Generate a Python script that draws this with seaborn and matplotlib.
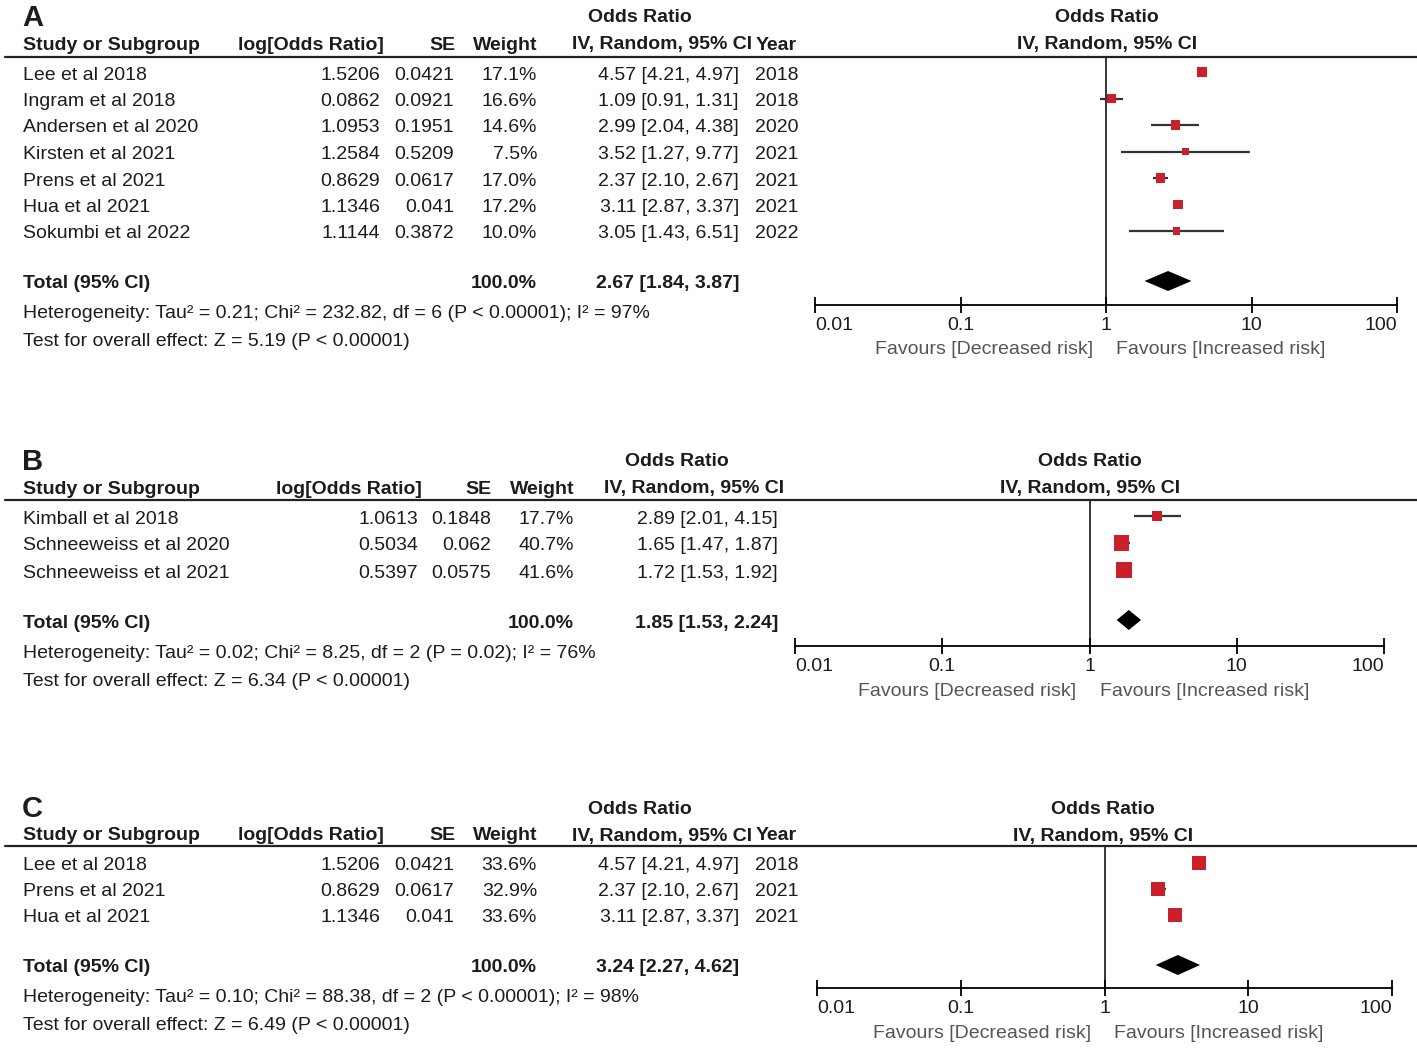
import numpy as np
import pandas as pd
import matplotlib
matplotlib.use("Agg")
import matplotlib.pyplot as plt
from matplotlib.lines import Line2D
import seaborn as sns


# ---------------- DATA ---------------- #

# panel A
a_study = ["Lee et al 2018", "Ingram et al 2018", "Andersen et al 2020", "Kirsten et al 2021",
           "Prens et al 2021", "Hua et al 2021", "Sokumbi et al 2022"]
a_logor = [1.5206, 0.0862, 1.0953, 1.2584, 0.8629, 1.1346, 1.1144]
a_se = [0.0421, 0.0921, 0.1951, 0.5209, 0.0617, 0.041, 0.3872]
a_weight = [17.1, 16.6, 14.6, 7.5, 17.0, 17.2, 10.0]
a_or = [4.57, 1.09, 2.99, 3.52, 2.37, 3.11, 3.05]
a_lo = [4.21, 0.91, 2.04, 1.27, 2.10, 2.87, 1.43]
a_hi = [4.97, 1.31, 4.38, 9.77, 2.67, 3.37, 6.51]
a_year = [2018, 2018, 2020, 2021, 2021, 2021, 2022]
a_total = [2.67, 1.84, 3.87]
a_het = "Heterogeneity: Tau² = 0.21; Chi² = 232.82, df = 6 (P < 0.00001); I² = 97%"
a_test = "Test for overall effect: Z = 5.19 (P < 0.00001)"

# panel B
b_study = ["Kimball et al 2018", "Schneeweiss et al 2020", "Schneeweiss et al 2021"]
b_logor = [1.0613, 0.5034, 0.5397]
b_se = [0.1848, 0.062, 0.0575]
b_weight = [17.7, 40.7, 41.6]
b_or = [2.89, 1.65, 1.72]
b_lo = [2.01, 1.47, 1.53]
b_hi = [4.15, 1.87, 1.92]
b_total = [1.85, 1.53, 2.24]
b_het = "Heterogeneity: Tau² = 0.02; Chi² = 8.25, df = 2 (P = 0.02); I² = 76%"
b_test = "Test for overall effect: Z = 6.34 (P < 0.00001)"

# panel C
c_study = ["Lee et al 2018", "Prens et al 2021", "Hua et al 2021"]
c_logor = [1.5206, 0.8629, 1.1346]
c_se = [0.0421, 0.0617, 0.041]
c_weight = [33.6, 32.9, 33.6]
c_or = [4.57, 2.37, 3.11]
c_lo = [4.21, 2.10, 2.87]
c_hi = [4.97, 2.67, 3.37]
c_year = [2018, 2021, 2021]
c_total = [3.24, 2.27, 4.62]
c_het = "Heterogeneity: Tau² = 0.10; Chi² = 88.38, df = 2 (P < 0.00001); I² = 98%"
c_test = "Test for overall effect: Z = 6.49 (P < 0.00001)"

total_weight = "100.0%"
ticks = [0.01, 0.1, 1, 10, 100]
tick_labels = ["0.01", "0.1", "1", "10", "100"]


# ---------------- STYLE ---------------- #

sns.set_style("white")
plt.rcParams['font.family'] = ['Liberation Sans', 'DejaVu Sans']

W, H = 1417, 1049
FS = 14
TXT = "#1c1c1c"
RED = "#c9202a"
GREY = "#555555"
DY = 3  # text sits a bit lower than its centre

fig = plt.figure(figsize=(W / 100, H / 100), dpi=100)


def put(x, y, s, ha="left", bold=False, color=TXT, size=FS):
    fig.text(x / W, 1 - (y + DY) / H, s, ha=ha, va="center", color=color, fontsize=size,
             fontweight="bold" if bold else "normal")


def panel(letter, lay, study, logor, se, weight, orr, lo, hi, total, het, test, year=None):
    c = lay["cols"]
    put(22, lay["top"], letter, bold=True, size=21)

    # table header
    put(c["ci_mid"], lay["top"], "Odds Ratio", ha="center", bold=True)
    put(23, lay["head"], "Study or Subgroup", bold=True)
    put(c["lor"] + 4, lay["head"], "log[Odds Ratio]", ha="right", bold=True)
    put(c["se"] + 1, lay["head"], "SE", ha="right", bold=True)
    put(c["w"], lay["head"], "Weight", ha="right", bold=True)
    put(c["ci_head"], lay["head"], "IV, Random, 95% CI", ha="right", bold=True)
    if year is not None:
        put(c["yr"] - 2, lay["head"], "Year", ha="right", bold=True)
    put(lay["mid"], lay["top"], "Odds Ratio", ha="center", bold=True)
    put(lay["mid"], lay["head"], "IV, Random, 95% CI", ha="center", bold=True)
    fig.add_artist(Line2D([5 / W, 1], [1 - lay["line"] / H] * 2, transform=fig.transFigure,
                          color="#222222", lw=1.6))

    n = len(study)
    ys = [lay["row0"] + i * lay["step"] for i in range(n)]
    for i in range(n):
        put(23, ys[i], study[i])
        put(c["lor"], ys[i], str(logor[i]), ha="right")
        put(c["se"], ys[i], str(se[i]), ha="right")
        put(c["w"], ys[i], f"{weight[i]:.1f}%", ha="right")
        put(c["ci"], ys[i], f"{orr[i]:.2f} [{lo[i]:.2f}, {hi[i]:.2f}]", ha="right")
        if year is not None:
            put(c["yr"], ys[i], str(year[i]), ha="right")

    put(23, lay["total"], "Total (95% CI)", bold=True)
    put(c["w"], lay["total"], total_weight, ha="right", bold=True)
    put(c["ci"], lay["total"], f"{total[0]:.2f} [{total[1]:.2f}, {total[2]:.2f}]", ha="right", bold=True)
    put(23, lay["het"], het)
    put(23, lay["test"], test)

    # forest area
    ax = fig.add_axes([lay["x0"] / W, 1 - lay["axis"] / H,
                       (lay["x1"] - lay["x0"]) / W, (lay["axis"] - lay["line"]) / H])
    ax.set_xscale("log")
    ax.set_xlim(0.01, 100)
    ax.set_ylim(lay["axis"], lay["line"])
    ax.patch.set_alpha(0)

    df = pd.DataFrame({"or": orr, "lo": lo, "hi": hi, "weight": weight, "y": ys})
    ax.hlines(df["y"], df["lo"], df["hi"], color="#333333", lw=1.6, zorder=2)
    sns.scatterplot(data=df, x="or", y="y", size="weight", sizes=(0, 300), size_norm=(0, 100),
                    marker="s", color=RED, linewidth=0, legend=False, ax=ax, zorder=3)

    ty = lay["total"]
    ax.fill([total[1], total[0], total[2], total[0]], [ty, ty - 10, ty, ty + 10],
            color="black", lw=0, zorder=3)
    ax.axvline(1, color="black", lw=1.1, zorder=1)

    for s in ["top", "left", "right"]:
        ax.spines[s].set_visible(False)
    ax.spines["bottom"].set_linewidth(1.3)
    ax.spines["bottom"].set_color("black")
    ax.set_xticks(ticks)
    ax.set_xticklabels(tick_labels, fontsize=FS, color=TXT)
    ax.minorticks_off()
    ax.tick_params(axis="x", which="major", bottom=True, direction="inout", length=11,
                   width=1.3, pad=3, color="black")
    ax.set_yticks([])
    ax.set_xlabel("")
    ax.set_ylabel("")
    lbls = ax.get_xticklabels()
    lbls[0].set_ha("left")
    lbls[-1].set_ha("right")

    one = lay["x0"] + (lay["x1"] - lay["x0"]) / 2
    put(one - 13, lay["fav"], "Favours [Decreased risk]", ha="right", color=GREY)
    put(one + 10, lay["fav"], "Favours [Increased risk]", ha="left", color=GREY)


# ---------------- LAYOUT ---------------- #

cols_ac = {"lor": 380, "se": 454, "w": 537, "ci": 739, "ci_head": 752, "ci_mid": 640, "yr": 799}
cols_b = {"lor": 418, "se": 491, "w": 574, "ci": 778, "ci_head": 784, "ci_mid": 677}

lay_a = dict(top=15, head=42, line=57, row0=72, step=26.5, total=281, het=311, test=338,
             axis=305, fav=347, x0=815, x1=1397, mid=1107, cols=cols_ac)
lay_b = dict(top=459, head=486, line=500, row0=516, step=27, total=620, het=651, test=678,
             axis=646, fav=688, x0=795, x1=1384, mid=1090, cols=cols_b)
lay_c = dict(top=806, head=833, line=846, row0=863, step=26, total=965, het=995, test=1022,
             axis=988, fav=1031, x0=817, x1=1392, mid=1103, cols=cols_ac)

panel("A", lay_a, a_study, a_logor, a_se, a_weight, a_or, a_lo, a_hi, a_total, a_het, a_test, a_year)
panel("B", lay_b, b_study, b_logor, b_se, b_weight, b_or, b_lo, b_hi, b_total, b_het, b_test)
panel("C", lay_c, c_study, c_logor, c_se, c_weight, c_or, c_lo, c_hi, c_total, c_het, c_test, c_year)

fig.savefig("out.png", dpi=100)
plt.close(fig)
